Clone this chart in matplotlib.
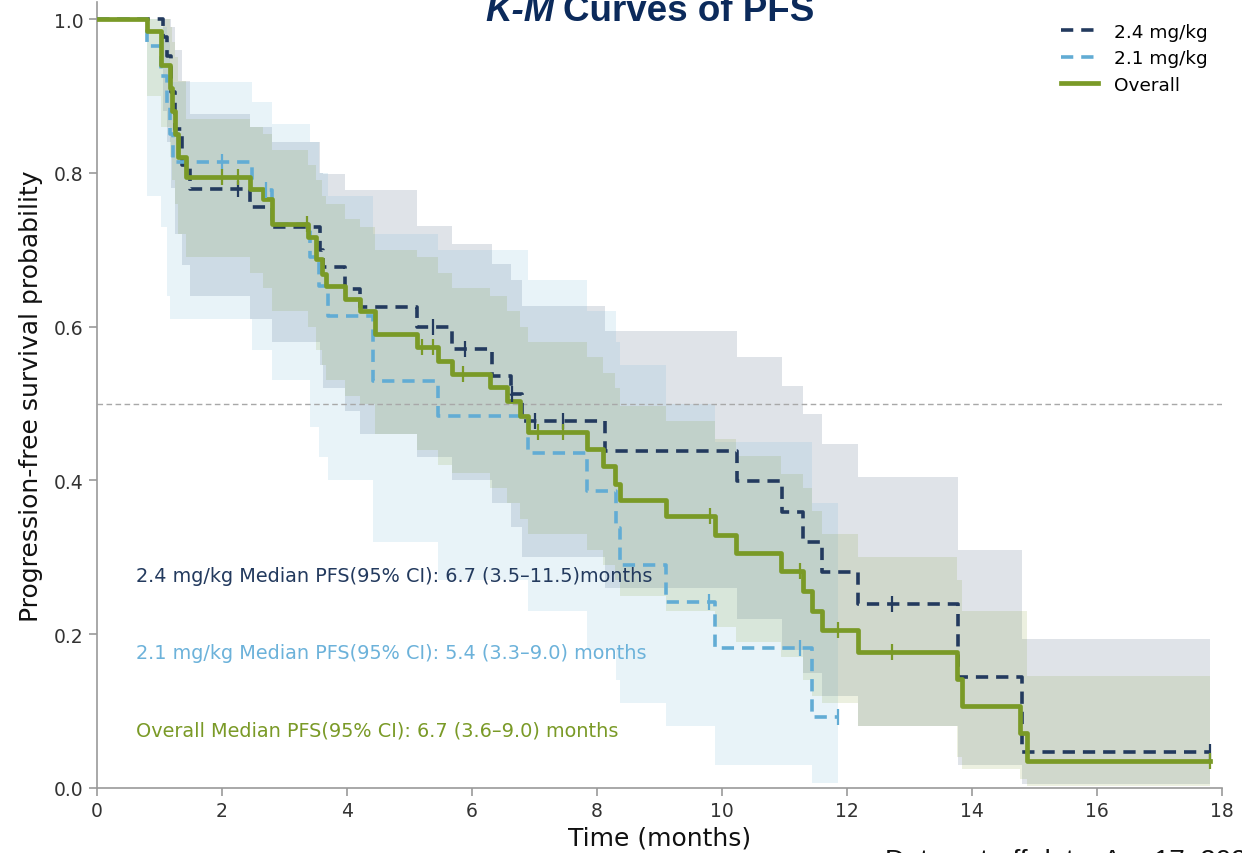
import numpy as np
import matplotlib
matplotlib.use("Agg")
import matplotlib.pyplot as plt

# ---------------- data ----------------
END_T = 17.8
END_T21 = 11.86

# Overall
T_ALL = [0, 0.8, 1.03, 1.17, 1.2, 1.24, 1.3, 1.42, 2.45, 2.66, 2.8, 3.38, 3.5, 3.6, 3.66,
         3.97, 4.21, 4.45, 5.12, 5.46, 5.68, 6.29, 6.56, 6.77, 6.9, 7.84, 8.1, 8.29, 8.37,
         9.1, 9.89, 10.22, 10.94, 11.3, 11.44, 11.6, 12.18, 13.76, 13.84, 14.77, 14.88]
S_ALL = [1.0, 0.985, 0.94, 0.91, 0.88, 0.85, 0.82, 0.794, 0.779, 0.766, 0.733, 0.716, 0.688,
         0.668, 0.653, 0.636, 0.620, 0.590, 0.573, 0.555, 0.538, 0.521, 0.503, 0.484, 0.463,
         0.441, 0.419, 0.395, 0.375, 0.354, 0.329, 0.306, 0.282, 0.256, 0.230, 0.205, 0.177,
         0.142, 0.107, 0.071, 0.035]
HI_ALL = [1.0, 1.0, 1.0, 0.99, 0.97, 0.95, 0.92, 0.87, 0.86, 0.85, 0.83, 0.81, 0.79, 0.77,
          0.76, 0.74, 0.73, 0.70, 0.69, 0.67, 0.65, 0.64, 0.62, 0.60, 0.58, 0.56, 0.54, 0.52,
          0.497, 0.477, 0.454, 0.432, 0.408, 0.39, 0.36, 0.33, 0.30, 0.27, 0.23, 0.23, 0.146]
LO_ALL = [1.0, 0.90, 0.86, 0.82, 0.79, 0.76, 0.72, 0.69, 0.67, 0.65, 0.62, 0.60, 0.57, 0.55,
          0.53, 0.51, 0.50, 0.46, 0.44, 0.42, 0.41, 0.39, 0.37, 0.35, 0.33, 0.31, 0.29, 0.27,
          0.25, 0.23, 0.21, 0.19, 0.17, 0.14, 0.12, 0.11, 0.08, 0.04, 0.025, 0.012, 0.003]
CENS_ALL = [2.0, 2.26, 3.36, 5.2, 5.38, 5.86, 7.06, 7.46, 9.81, 11.25, 11.86, 12.72, 17.8]

# 2.4 mg/kg
T_24 = [0, 1.05, 1.12, 1.18, 1.24, 1.36, 1.48, 2.45, 2.8, 3.57, 3.62, 3.97, 4.21, 5.12,
        5.68, 6.32, 6.62, 6.8, 8.13, 10.24, 10.96, 11.3, 11.6, 12.18, 13.78, 14.8]
S_24 = [1.0, 0.976, 0.952, 0.905, 0.857, 0.81, 0.779, 0.755, 0.729, 0.70, 0.678, 0.649,
        0.625, 0.600, 0.571, 0.536, 0.512, 0.477, 0.438, 0.399, 0.359, 0.32, 0.281, 0.239,
        0.144, 0.047]
HI_24 = [1.0, 1.0, 1.0, 0.99, 0.96, 0.92, 0.876, 0.86, 0.84, 0.80, 0.798, 0.777, 0.777,
         0.731, 0.707, 0.681, 0.66, 0.627, 0.594, 0.56, 0.523, 0.486, 0.447, 0.404, 0.31,
         0.194]
LO_24 = [1.0, 0.88, 0.84, 0.78, 0.72, 0.68, 0.64, 0.61, 0.58, 0.55, 0.52, 0.49, 0.46, 0.43,
         0.40, 0.37, 0.34, 0.30, 0.26, 0.22, 0.18, 0.15, 0.12, 0.08, 0.03, 0.005]
CENS_24 = [2.26, 5.38, 5.89, 6.64, 7.0, 7.46, 12.72, 17.8]

# 2.1 mg/kg
T_21 = [0, 0.8, 1.03, 1.12, 1.17, 1.22, 2.48, 2.8, 3.4, 3.55, 3.7, 4.42, 5.46, 6.9, 7.84,
        8.3, 8.37, 9.1, 9.89, 11.44]
S_21 = [1.0, 0.965, 0.926, 0.89, 0.85, 0.814, 0.777, 0.733, 0.69, 0.653, 0.614, 0.529,
        0.484, 0.436, 0.386, 0.338, 0.29, 0.242, 0.182, 0.092]
HI_21 = [1.0, 1.0, 0.99, 0.97, 0.94, 0.918, 0.892, 0.863, 0.84, 0.80, 0.77, 0.72, 0.70,
         0.66, 0.62, 0.58, 0.55, 0.50, 0.45, 0.37]
LO_21 = [1.0, 0.77, 0.73, 0.64, 0.61, 0.61, 0.57, 0.53, 0.47, 0.43, 0.40, 0.32, 0.27, 0.23,
         0.18, 0.14, 0.11, 0.08, 0.03, 0.007]
CENS_21 = [2.0, 2.7, 9.79, 11.25, 11.86]

LABELS = ["2.4 mg/kg", "2.1 mg/kg", "Overall"]
MEDIAN_TEXTS = ["2.4 mg/kg Median PFS(95% CI): 6.7 (3.5\u201311.5)months",
                "2.1 mg/kg Median PFS(95% CI): 5.4 (3.3\u20139.0) months",
                "Overall Median PFS(95% CI): 6.7 (3.6\u20139.0) months"]
X_TICKS = list(range(0, 19, 2))
Y_TICKS = [0.0, 0.2, 0.4, 0.6, 0.8, 1.0]

# ---------------- styling ----------------
C24 = "#233a5e"
C21 = "#62acd4"
CALL = "#7a9a27"
TXT21 = "#6cb2da"

plt.rcParams['font.family'] = ['DejaVu Sans']
fig = plt.figure(figsize=(12.42, 8.54), dpi=100)
W, H = 1242, 854
ax = fig.add_axes([97 / W, (854 - 789) / H, (1222 - 97) / W, (789 - 3) / H])
ax.set_xlim(0, 18)
ax.set_ylim(0, 786 / 769)


def ext(t, v, end):
    return list(t) + [end], list(v) + [v[-1]]


def surv_at(t, s, x):
    i = np.searchsorted(np.asarray(t), x, side='right') - 1
    return np.asarray(s)[i]


groups = [
    (T_24, S_24, LO_24, HI_24, CENS_24, END_T, C24, (0, (3.4, 2.2)), 2.6),
    (T_21, S_21, LO_21, HI_21, CENS_21, END_T21, C21, (0, (3.4, 2.2)), 2.6),
    (T_ALL, S_ALL, LO_ALL, HI_ALL, CENS_ALL, END_T, CALL, '-', 3.4),
]

# bands
for (t, s, lo, hi, cens, end, c, ls, lw) in groups:
    tt, ll = ext(t, lo, end)
    _, hh = ext(t, hi, end)
    ax.fill_between(tt, ll, hh, step='post', color=c, alpha=0.14, linewidth=0, zorder=1)

ax.axhline(0.5, color='#a8a8a8', lw=1.0, ls=(0, (4, 2.5)), zorder=2)

handles = []
for (t, s, lo, hi, cens, end, c, ls, lw), lab in zip(groups, LABELS):
    tt, ss = ext(t, s, end)
    h, = ax.step(tt, ss, where='post', color=c, lw=lw, ls=ls, zorder=4, label=lab)
    handles.append(h)
    cy = [surv_at(t, s, x) for x in cens]
    ax.plot(cens, cy, ls='none', marker='|', ms=11, mew=1.6, color=c, zorder=5)

leg = fig.legend(handles=handles, loc='upper right',
                 bbox_to_anchor=(1215 / W, 1 - 16.5 / H), bbox_transform=fig.transFigure,
                 frameon=False, fontsize=13.3, handlelength=2.0, handletextpad=0.86,
                 labelspacing=0.45, borderaxespad=0.0)

for txt, c, yv in zip(MEDIAN_TEXTS, [C24, TXT21, CALL], [0.276, 0.176, 0.075]):
    ax.text(0.62, yv, txt, color=c, fontsize=13.9, va='center', ha='left')

ax.set_xticks(X_TICKS)
ax.set_yticks(Y_TICKS)
ax.set_yticklabels([f"{v:.1f}" for v in Y_TICKS])
for sp in ['top', 'right']:
    ax.spines[sp].set_visible(False)
for sp in ['left', 'bottom']:
    ax.spines[sp].set_color('#9a9a9a')
    ax.spines[sp].set_linewidth(1.2)
ax.tick_params(axis='both', colors='#9a9a9a', labelcolor='#333333', labelsize=13.5,
               length=6, width=1.2)
ax.set_xlabel("Time (months)", fontsize=18, color='#111111', labelpad=4)
ax.set_ylabel("Progression-free survival probability", fontsize=18, color='#111111', labelpad=8)

# title (partly cropped at top in the reference)
title_kw = dict(fontsize=26.5, fontweight='bold', color='#0b2a5b', va='baseline',
                family=['Liberation Sans', 'DejaVu Sans'])
fig.text(485 / W, (854 - 21) / H, "K-M", style='italic', ha='left', **title_kw)
fig.text(563 / W, (854 - 21) / H, "Curves of PFS", ha='left', **title_kw)

# footnote (mostly cropped at bottom)
fig.text(885 / W, (854 - 869) / H, "Data cut-off date: Apr 17, 2023", fontsize=20,
         color='#111111', va='baseline', ha='left', family=['Liberation Sans', 'DejaVu Sans'])

fig.savefig("out.png", dpi=100)
